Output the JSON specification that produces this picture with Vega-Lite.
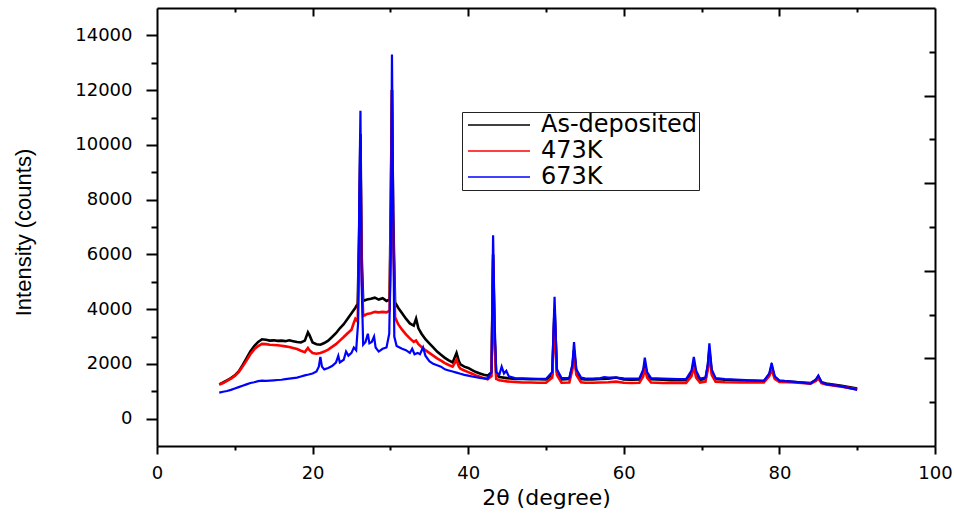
{
  "$schema": "https://vega.github.io/schema/vega-lite/v6.json",
  "width": 778,
  "height": 438,
  "autosize": {"type": "none"},
  "padding": {"left": 157, "top": 8, "right": 19, "bottom": 70},
  "background": "white",
  "config": {
    "view": {"stroke": null},
    "axis": {"labelFont": "DejaVu Sans", "labelFontSize": 18, "labelColor": "#000", "titleColor": "#000", "domainColor": "#000", "tickColor": "#000", "domainWidth": 2, "tickWidth": 2, "grid": false, "titleFontWeight": "normal"}
  },
  "datasets": {
    "asdep": [
      {"x":8.0,"y":1250},{"x":8.5,"y":1320},{"x":9.0,"y":1400},{"x":9.5,"y":1480},{"x":10.0,"y":1580},{"x":10.5,"y":1720},{"x":11.0,"y":1950},{"x":11.5,"y":2200},{"x":12.0,"y":2450},{"x":12.5,"y":2650},{"x":13.0,"y":2800},{"x":13.5,"y":2900},{"x":14.0,"y":2880},{"x":14.5,"y":2850},{"x":15.0,"y":2860},{"x":15.5,"y":2840},{"x":16.0,"y":2850},{"x":16.5,"y":2830},{"x":17.0,"y":2860},{"x":17.5,"y":2830},{"x":18.0,"y":2800},{"x":18.5,"y":2780},{"x":19.0,"y":2850},{"x":19.4,"y":3150},{"x":19.6,"y":3050},{"x":20.0,"y":2780},{"x":20.5,"y":2720},{"x":21.0,"y":2700},{"x":21.5,"y":2760},{"x":22.0,"y":2850},{"x":22.5,"y":2980},{"x":23.0,"y":3120},{"x":23.5,"y":3300},{"x":24.0,"y":3450},{"x":24.5,"y":3650},{"x":25.0,"y":3850},{"x":25.5,"y":4050},{"x":25.8,"y":4200},{"x":26.0,"y":7000},{"x":26.15,"y":10400},{"x":26.3,"y":6000},{"x":26.5,"y":4300},{"x":27.0,"y":4350},{"x":27.5,"y":4380},{"x":28.0,"y":4420},{"x":28.5,"y":4350},{"x":29.0,"y":4400},{"x":29.5,"y":4300},{"x":29.9,"y":4350},{"x":30.05,"y":8000},{"x":30.2,"y":12000},{"x":30.35,"y":7500},{"x":30.6,"y":4250},{"x":31.0,"y":4050},{"x":31.5,"y":3850},{"x":32.0,"y":3650},{"x":32.5,"y":3480},{"x":33.0,"y":3400},{"x":33.3,"y":3650},{"x":33.6,"y":3300},{"x":34.0,"y":3100},{"x":34.5,"y":2900},{"x":35.0,"y":2750},{"x":35.5,"y":2600},{"x":36.0,"y":2450},{"x":36.5,"y":2330},{"x":37.0,"y":2220},{"x":37.5,"y":2130},{"x":38.0,"y":2050},{"x":38.5,"y":2400},{"x":38.8,"y":2100},{"x":39.0,"y":1980},{"x":39.5,"y":1900},{"x":40.0,"y":1850},{"x":40.5,"y":1770},{"x":41.0,"y":1700},{"x":41.5,"y":1650},{"x":42.0,"y":1600},{"x":42.5,"y":1570},{"x":43.0,"y":1700},{"x":43.2,"y":6000},{"x":43.4,"y":3000},{"x":43.6,"y":1600},{"x":44.0,"y":1520},{"x":45.0,"y":1480},{"x":46.0,"y":1450},{"x":47.0,"y":1450},{"x":48.0,"y":1440},{"x":49.0,"y":1440},{"x":50.0,"y":1430},{"x":50.8,"y":1600},{"x":51.1,"y":4000},{"x":51.4,"y":1700},{"x":52.0,"y":1430},{"x":53.0,"y":1450},{"x":53.4,"y":1900},{"x":53.6,"y":2500},{"x":53.9,"y":1700},{"x":54.5,"y":1450},{"x":55.0,"y":1430},{"x":56.0,"y":1430},{"x":57.0,"y":1450},{"x":58.0,"y":1460},{"x":59.0,"y":1500},{"x":60.0,"y":1430},{"x":61.0,"y":1420},{"x":62.0,"y":1430},{"x":62.5,"y":1700},{"x":62.7,"y":2000},{"x":63.0,"y":1600},{"x":63.5,"y":1440},{"x":65.0,"y":1420},{"x":66.0,"y":1400},{"x":67.0,"y":1400},{"x":68.0,"y":1400},{"x":68.7,"y":1650},{"x":69.0,"y":2050},{"x":69.3,"y":1600},{"x":69.8,"y":1420},{"x":70.5,"y":1450},{"x":70.8,"y":1900},{"x":71.0,"y":2500},{"x":71.3,"y":1700},{"x":71.8,"y":1450},{"x":73.0,"y":1420},{"x":75.0,"y":1390},{"x":77.0,"y":1380},{"x":78.0,"y":1370},{"x":78.7,"y":1600},{"x":79.0,"y":1900},{"x":79.4,"y":1500},{"x":80.0,"y":1380},{"x":82.0,"y":1340},{"x":84.0,"y":1300},{"x":84.7,"y":1420},{"x":85.0,"y":1540},{"x":85.4,"y":1330},{"x":86.0,"y":1280},{"x":88.0,"y":1200},{"x":90.0,"y":1100}
    ],
    "k473": [
      {"x":8.0,"y":1250},{"x":8.5,"y":1300},{"x":9.0,"y":1380},{"x":9.5,"y":1460},{"x":10.0,"y":1560},{"x":10.5,"y":1700},{"x":11.0,"y":1900},{"x":11.5,"y":2120},{"x":12.0,"y":2350},{"x":12.5,"y":2530},{"x":13.0,"y":2650},{"x":13.5,"y":2730},{"x":14.0,"y":2720},{"x":14.5,"y":2700},{"x":15.0,"y":2690},{"x":15.5,"y":2680},{"x":16.0,"y":2660},{"x":16.5,"y":2640},{"x":17.0,"y":2620},{"x":17.5,"y":2580},{"x":18.0,"y":2540},{"x":18.5,"y":2480},{"x":19.0,"y":2430},{"x":19.4,"y":2580},{"x":19.6,"y":2500},{"x":20.0,"y":2400},{"x":20.5,"y":2370},{"x":21.0,"y":2400},{"x":21.5,"y":2450},{"x":22.0,"y":2520},{"x":22.5,"y":2620},{"x":23.0,"y":2720},{"x":23.5,"y":2850},{"x":24.0,"y":2980},{"x":24.5,"y":3120},{"x":25.0,"y":3250},{"x":25.3,"y":3500},{"x":25.5,"y":3650},{"x":25.8,"y":3550},{"x":26.0,"y":6500},{"x":26.15,"y":9800},{"x":26.3,"y":5500},{"x":26.5,"y":3750},{"x":27.0,"y":3820},{"x":27.5,"y":3850},{"x":28.0,"y":3900},{"x":28.5,"y":3880},{"x":29.0,"y":3900},{"x":29.5,"y":3880},{"x":29.9,"y":3950},{"x":30.05,"y":7500},{"x":30.2,"y":12000},{"x":30.35,"y":7000},{"x":30.6,"y":3700},{"x":31.0,"y":3450},{"x":31.5,"y":3250},{"x":32.0,"y":3080},{"x":32.5,"y":2930},{"x":33.0,"y":2800},{"x":33.3,"y":2850},{"x":33.6,"y":2720},{"x":34.0,"y":2620},{"x":34.5,"y":2500},{"x":35.0,"y":2400},{"x":35.5,"y":2300},{"x":36.0,"y":2200},{"x":36.5,"y":2120},{"x":37.0,"y":2030},{"x":37.5,"y":1960},{"x":38.0,"y":1900},{"x":38.5,"y":2150},{"x":38.8,"y":1900},{"x":39.0,"y":1820},{"x":39.5,"y":1760},{"x":40.0,"y":1700},{"x":40.5,"y":1640},{"x":41.0,"y":1580},{"x":41.5,"y":1530},{"x":42.0,"y":1480},{"x":42.5,"y":1440},{"x":43.0,"y":1550},{"x":43.2,"y":5800},{"x":43.4,"y":2800},{"x":43.6,"y":1450},{"x":44.0,"y":1400},{"x":45.0,"y":1360},{"x":46.0,"y":1340},{"x":47.0,"y":1320},{"x":48.0,"y":1320},{"x":49.0,"y":1310},{"x":50.0,"y":1310},{"x":50.8,"y":1500},{"x":51.1,"y":3800},{"x":51.4,"y":1600},{"x":52.0,"y":1310},{"x":53.0,"y":1320},{"x":53.4,"y":1800},{"x":53.6,"y":2400},{"x":53.9,"y":1600},{"x":54.5,"y":1330},{"x":55.0,"y":1310},{"x":56.0,"y":1310},{"x":57.0,"y":1320},{"x":58.0,"y":1330},{"x":59.0,"y":1350},{"x":60.0,"y":1310},{"x":61.0,"y":1300},{"x":62.0,"y":1310},{"x":62.5,"y":1550},{"x":62.7,"y":1850},{"x":63.0,"y":1500},{"x":63.5,"y":1320},{"x":65.0,"y":1300},{"x":66.0,"y":1300},{"x":67.0,"y":1300},{"x":68.0,"y":1300},{"x":68.7,"y":1550},{"x":69.0,"y":1900},{"x":69.3,"y":1500},{"x":69.8,"y":1320},{"x":70.5,"y":1350},{"x":70.8,"y":1800},{"x":71.0,"y":2400},{"x":71.3,"y":1600},{"x":71.8,"y":1350},{"x":73.0,"y":1330},{"x":75.0,"y":1320},{"x":77.0,"y":1320},{"x":78.0,"y":1320},{"x":78.7,"y":1550},{"x":79.0,"y":1800},{"x":79.4,"y":1450},{"x":80.0,"y":1340},{"x":82.0,"y":1320},{"x":84.0,"y":1280},{"x":84.7,"y":1380},{"x":85.0,"y":1480},{"x":85.4,"y":1300},{"x":86.0,"y":1250},{"x":88.0,"y":1170},{"x":90.0,"y":1070}
    ],
    "k673": [
      {"x":8.0,"y":950},{"x":8.5,"y":980},{"x":9.0,"y":1010},{"x":9.5,"y":1050},{"x":10.0,"y":1100},{"x":10.5,"y":1150},{"x":11.0,"y":1200},{"x":11.5,"y":1250},{"x":12.0,"y":1300},{"x":12.5,"y":1330},{"x":13.0,"y":1370},{"x":13.5,"y":1390},{"x":14.0,"y":1380},{"x":14.5,"y":1390},{"x":15.0,"y":1400},{"x":15.5,"y":1410},{"x":16.0,"y":1420},{"x":16.5,"y":1440},{"x":17.0,"y":1460},{"x":17.5,"y":1480},{"x":18.0,"y":1500},{"x":18.5,"y":1540},{"x":19.0,"y":1580},{"x":19.5,"y":1610},{"x":20.0,"y":1650},{"x":20.5,"y":1720},{"x":20.8,"y":1900},{"x":21.0,"y":2250},{"x":21.2,"y":1900},{"x":21.5,"y":1800},{"x":22.0,"y":1850},{"x":22.5,"y":1920},{"x":23.0,"y":2050},{"x":23.3,"y":2300},{"x":23.5,"y":2050},{"x":24.0,"y":2150},{"x":24.3,"y":2450},{"x":24.6,"y":2300},{"x":25.0,"y":2400},{"x":25.3,"y":2600},{"x":25.6,"y":2500},{"x":25.85,"y":3500},{"x":26.0,"y":8000},{"x":26.15,"y":11250},{"x":26.3,"y":5000},{"x":26.5,"y":2700},{"x":26.8,"y":2800},{"x":27.1,"y":3100},{"x":27.3,"y":2750},{"x":27.6,"y":2800},{"x":27.9,"y":3000},{"x":28.1,"y":2600},{"x":28.5,"y":2450},{"x":29.0,"y":2550},{"x":29.5,"y":2600},{"x":29.85,"y":3100},{"x":30.05,"y":6000},{"x":30.2,"y":13300},{"x":30.35,"y":8000},{"x":30.5,"y":3000},{"x":30.8,"y":2650},{"x":31.5,"y":2550},{"x":32.0,"y":2500},{"x":32.5,"y":2400},{"x":32.8,"y":2550},{"x":33.1,"y":2350},{"x":33.5,"y":2400},{"x":33.8,"y":2350},{"x":34.2,"y":2600},{"x":34.5,"y":2300},{"x":35.0,"y":2100},{"x":35.5,"y":2000},{"x":36.0,"y":1950},{"x":36.5,"y":1900},{"x":37.0,"y":1800},{"x":37.5,"y":1760},{"x":38.0,"y":1720},{"x":38.5,"y":1680},{"x":39.0,"y":1640},{"x":39.5,"y":1600},{"x":40.0,"y":1570},{"x":40.5,"y":1540},{"x":41.0,"y":1510},{"x":41.5,"y":1490},{"x":42.0,"y":1470},{"x":42.5,"y":1460},{"x":43.0,"y":1700},{"x":43.2,"y":6700},{"x":43.4,"y":3500},{"x":43.6,"y":1700},{"x":44.0,"y":1600},{"x":44.3,"y":1900},{"x":44.6,"y":1650},{"x":44.9,"y":1750},{"x":45.2,"y":1550},{"x":46.0,"y":1480},{"x":47.0,"y":1470},{"x":48.0,"y":1460},{"x":49.0,"y":1450},{"x":50.0,"y":1450},{"x":50.8,"y":1700},{"x":51.1,"y":4450},{"x":51.4,"y":1800},{"x":52.0,"y":1480},{"x":53.0,"y":1480},{"x":53.4,"y":2000},{"x":53.6,"y":2800},{"x":53.9,"y":1800},{"x":54.5,"y":1500},{"x":55.0,"y":1470},{"x":56.0,"y":1460},{"x":57.0,"y":1480},{"x":57.5,"y":1520},{"x":58.0,"y":1500},{"x":59.0,"y":1500},{"x":60.0,"y":1470},{"x":61.0,"y":1460},{"x":62.0,"y":1470},{"x":62.5,"y":1800},{"x":62.7,"y":2230},{"x":63.0,"y":1700},{"x":63.5,"y":1480},{"x":65.0,"y":1460},{"x":66.0,"y":1450},{"x":67.0,"y":1440},{"x":68.0,"y":1440},{"x":68.7,"y":1750},{"x":69.0,"y":2250},{"x":69.3,"y":1750},{"x":69.8,"y":1460},{"x":70.5,"y":1500},{"x":70.8,"y":2000},{"x":71.0,"y":2750},{"x":71.3,"y":1800},{"x":71.8,"y":1480},{"x":73.0,"y":1440},{"x":75.0,"y":1420},{"x":77.0,"y":1390},{"x":78.0,"y":1380},{"x":78.7,"y":1650},{"x":79.0,"y":2030},{"x":79.4,"y":1550},{"x":80.0,"y":1390},{"x":82.0,"y":1340},{"x":84.0,"y":1280},{"x":84.7,"y":1430},{"x":85.0,"y":1570},{"x":85.4,"y":1330},{"x":86.0,"y":1260},{"x":88.0,"y":1180},{"x":90.0,"y":1050}
    ]
  },
  "layer": [
    {
      "encoding": {
        "x": {"field": "x", "type": "quantitative", "scale": {"domain": [0, 100], "nice": false, "zero": false},
          "axis": {"orient": "bottom", "values": [0,10,20,30,40,50,60,70,80,90,100], "labelExpr": "datum.value % 20 === 0 ? datum.label : ''", "tickSize": {"condition": {"test": "datum.value % 20 === 0", "value": 8}, "value": 4}, "labelPadding": 10, "labelFlush": false, "labelOverlap": false, "title": "2θ (degree)", "titleFont": "DejaVu Sans", "titleFontSize": 22, "titleBaseline": "middle", "titleY": 51}},
        "y": {"field": "y", "type": "quantitative", "scale": {"domain": [-1000, 15000], "nice": false, "zero": false},
          "axis": {"orient": "left", "values": [0,1000,2000,3000,4000,5000,6000,7000,8000,9000,10000,11000,12000,13000,14000], "labelExpr": "datum.value % 2000 === 0 ? datum.label : ''", "format": "d", "tickSize": {"condition": {"test": "datum.value % 2000 === 0", "value": 11}, "value": 6}, "labelPadding": 14, "labelOverlap": false, "title": "Intensity (counts)", "titleFont": "Liberation Sans", "titleFontSize": 22, "titleBaseline": "middle", "titleAngle": 270, "titleX": -134, "titleY": 224}},
        "color": {
          "scale": {"domain": ["As-deposited", "473K", "673K"], "range": ["#000000", "#ff0000", "#0000ff"]},
          "legend": {"orient": "none", "legendX": 305, "legendY": 104, "title": null, "padding": 1, "rowPadding": 2, "labelFont": "DejaVu Sans", "labelFontSize": 24, "labelColor": "#000", "labelOffset": 54, "symbolType": "M-0.7,0L5.5,0", "symbolSize": 400, "symbolStrokeWidth": 1.5, "strokeColor": "#222", "labelLimit": 400}
        }
      },
      "layer": [
        {"data": {"name": "asdep"}, "mark": {"type": "line", "strokeWidth": 2.6, "clip": true}, "encoding": {"color": {"datum": "As-deposited", "type": "nominal"}}},
        {"data": {"name": "k473"}, "mark": {"type": "line", "strokeWidth": 2.6, "clip": true}, "encoding": {"color": {"datum": "473K", "type": "nominal"}}},
        {"data": {"name": "k673"}, "mark": {"type": "line", "strokeWidth": 2.2, "clip": true}, "encoding": {"color": {"datum": "673K", "type": "nominal"}}}
      ]
    },
    {
      "data": {"name": "asdep"},
      "mark": {"type": "point", "opacity": 0, "clip": true},
      "encoding": {
        "x": {"field": "x", "type": "quantitative", "scale": {"domain": [0, 100], "nice": false, "zero": false},
          "axis": {"orient": "top", "values": [10,20,30,40,50,60,70,80,90], "labels": false, "title": null, "tickSize": {"condition": {"test": "datum.value % 20 === 0", "value": -8}, "value": -4}}},
        "y": {"field": "y", "type": "quantitative", "scale": {"domain": [0, 5], "nice": false, "zero": false},
          "axis": {"orient": "right", "values": [0.5,1,1.5,2,2.5,3,3.5,4,4.5], "labels": false, "title": null, "tickSize": {"condition": {"test": "datum.value % 1 === 0", "value": -11}, "value": -6}}}
      }
    }
  ],
  "resolve": {"scale": {"y": "independent"}, "axis": {"x": "independent", "y": "independent"}}
}
